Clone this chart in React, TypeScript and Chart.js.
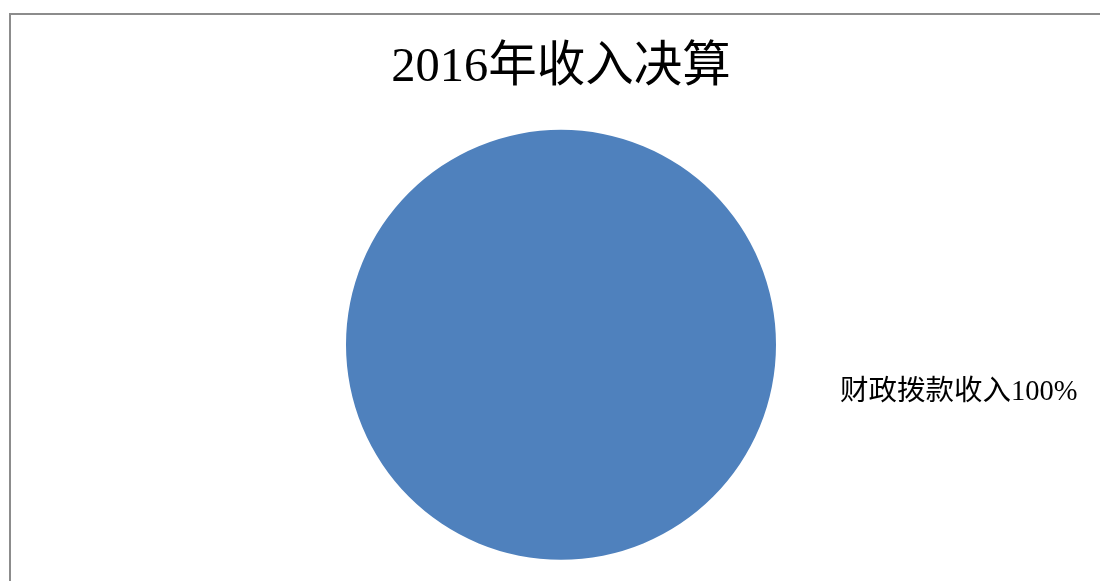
import React, { useEffect, useRef } from "react";
import { Chart, registerables } from "chart.js";

Chart.register(...registerables);

const chartTitle = "2016年收入决算";
const categories = ["财政拨款收入"];
const values = [100];
const colors = ["#4F81BD"];

const frameAndLabels = {
  id: "frameAndLabels",
  beforeDraw(chart: any) {
    const ctx = chart.ctx;
    ctx.save();
    ctx.fillStyle = "#ffffff";
    ctx.fillRect(0, 0, chart.width, chart.height);
    ctx.strokeStyle = "#8c8c8c";
    ctx.lineWidth = 2;
    ctx.strokeRect(10, 14, chart.width + 100, chart.height + 100);
    ctx.restore();
  },
  afterDraw(chart: any) {
    const ctx = chart.ctx;
    const meta = chart.getDatasetMeta(0);
    const total = values.reduce((a, b) => a + b, 0);
    ctx.save();
    ctx.fillStyle = "#000000";
    ctx.font = '28.5px "Liberation Serif", "Noto Sans CJK SC", serif';
    ctx.textAlign = "left";
    ctx.textBaseline = "middle";
    meta.data.forEach((arc: any, i: number) => {
      const pct = Math.round((values[i] / total) * 100);
      const text = categories[i] + pct + "%";
      ctx.fillText(text, arc.x + arc.outerRadius + 64, arc.y + 48);
    });
    ctx.restore();
  },
};

export default function App() {
  const ref = useRef<HTMLCanvasElement | null>(null);
  useEffect(() => {
    if (!ref.current) return;
    const chart = new Chart(ref.current, {
      type: "pie",
      data: {
        labels: categories,
        datasets: [
          {
            data: values,
            backgroundColor: colors,
            borderWidth: 0,
          },
        ],
      },
      options: {
        responsive: false,
        animation: false,
        layout: { padding: { top: 13, left: 346, right: 324, bottom: 21 } },
        plugins: {
          legend: { display: false },
          tooltip: { enabled: false },
          title: {
            display: true,
            text: chartTitle,
            color: "#000000",
            font: { family: '"Liberation Serif", "Noto Sans CJK SC", serif', size: 48.5, weight: "normal", lineHeight: 1.2 },
            padding: { top: 26, bottom: 32.4 },
          },
        },
      },
      plugins: [frameAndLabels],
    });
    return () => chart.destroy();
  }, []);
  return (
    <div style={{ position: "absolute", left: 0, top: 0, width: 1100, height: 581, background: "#fff" }}>
      <canvas ref={ref} width={1100} height={581} style={{ display: "block" }} />
    </div>
  );
}
